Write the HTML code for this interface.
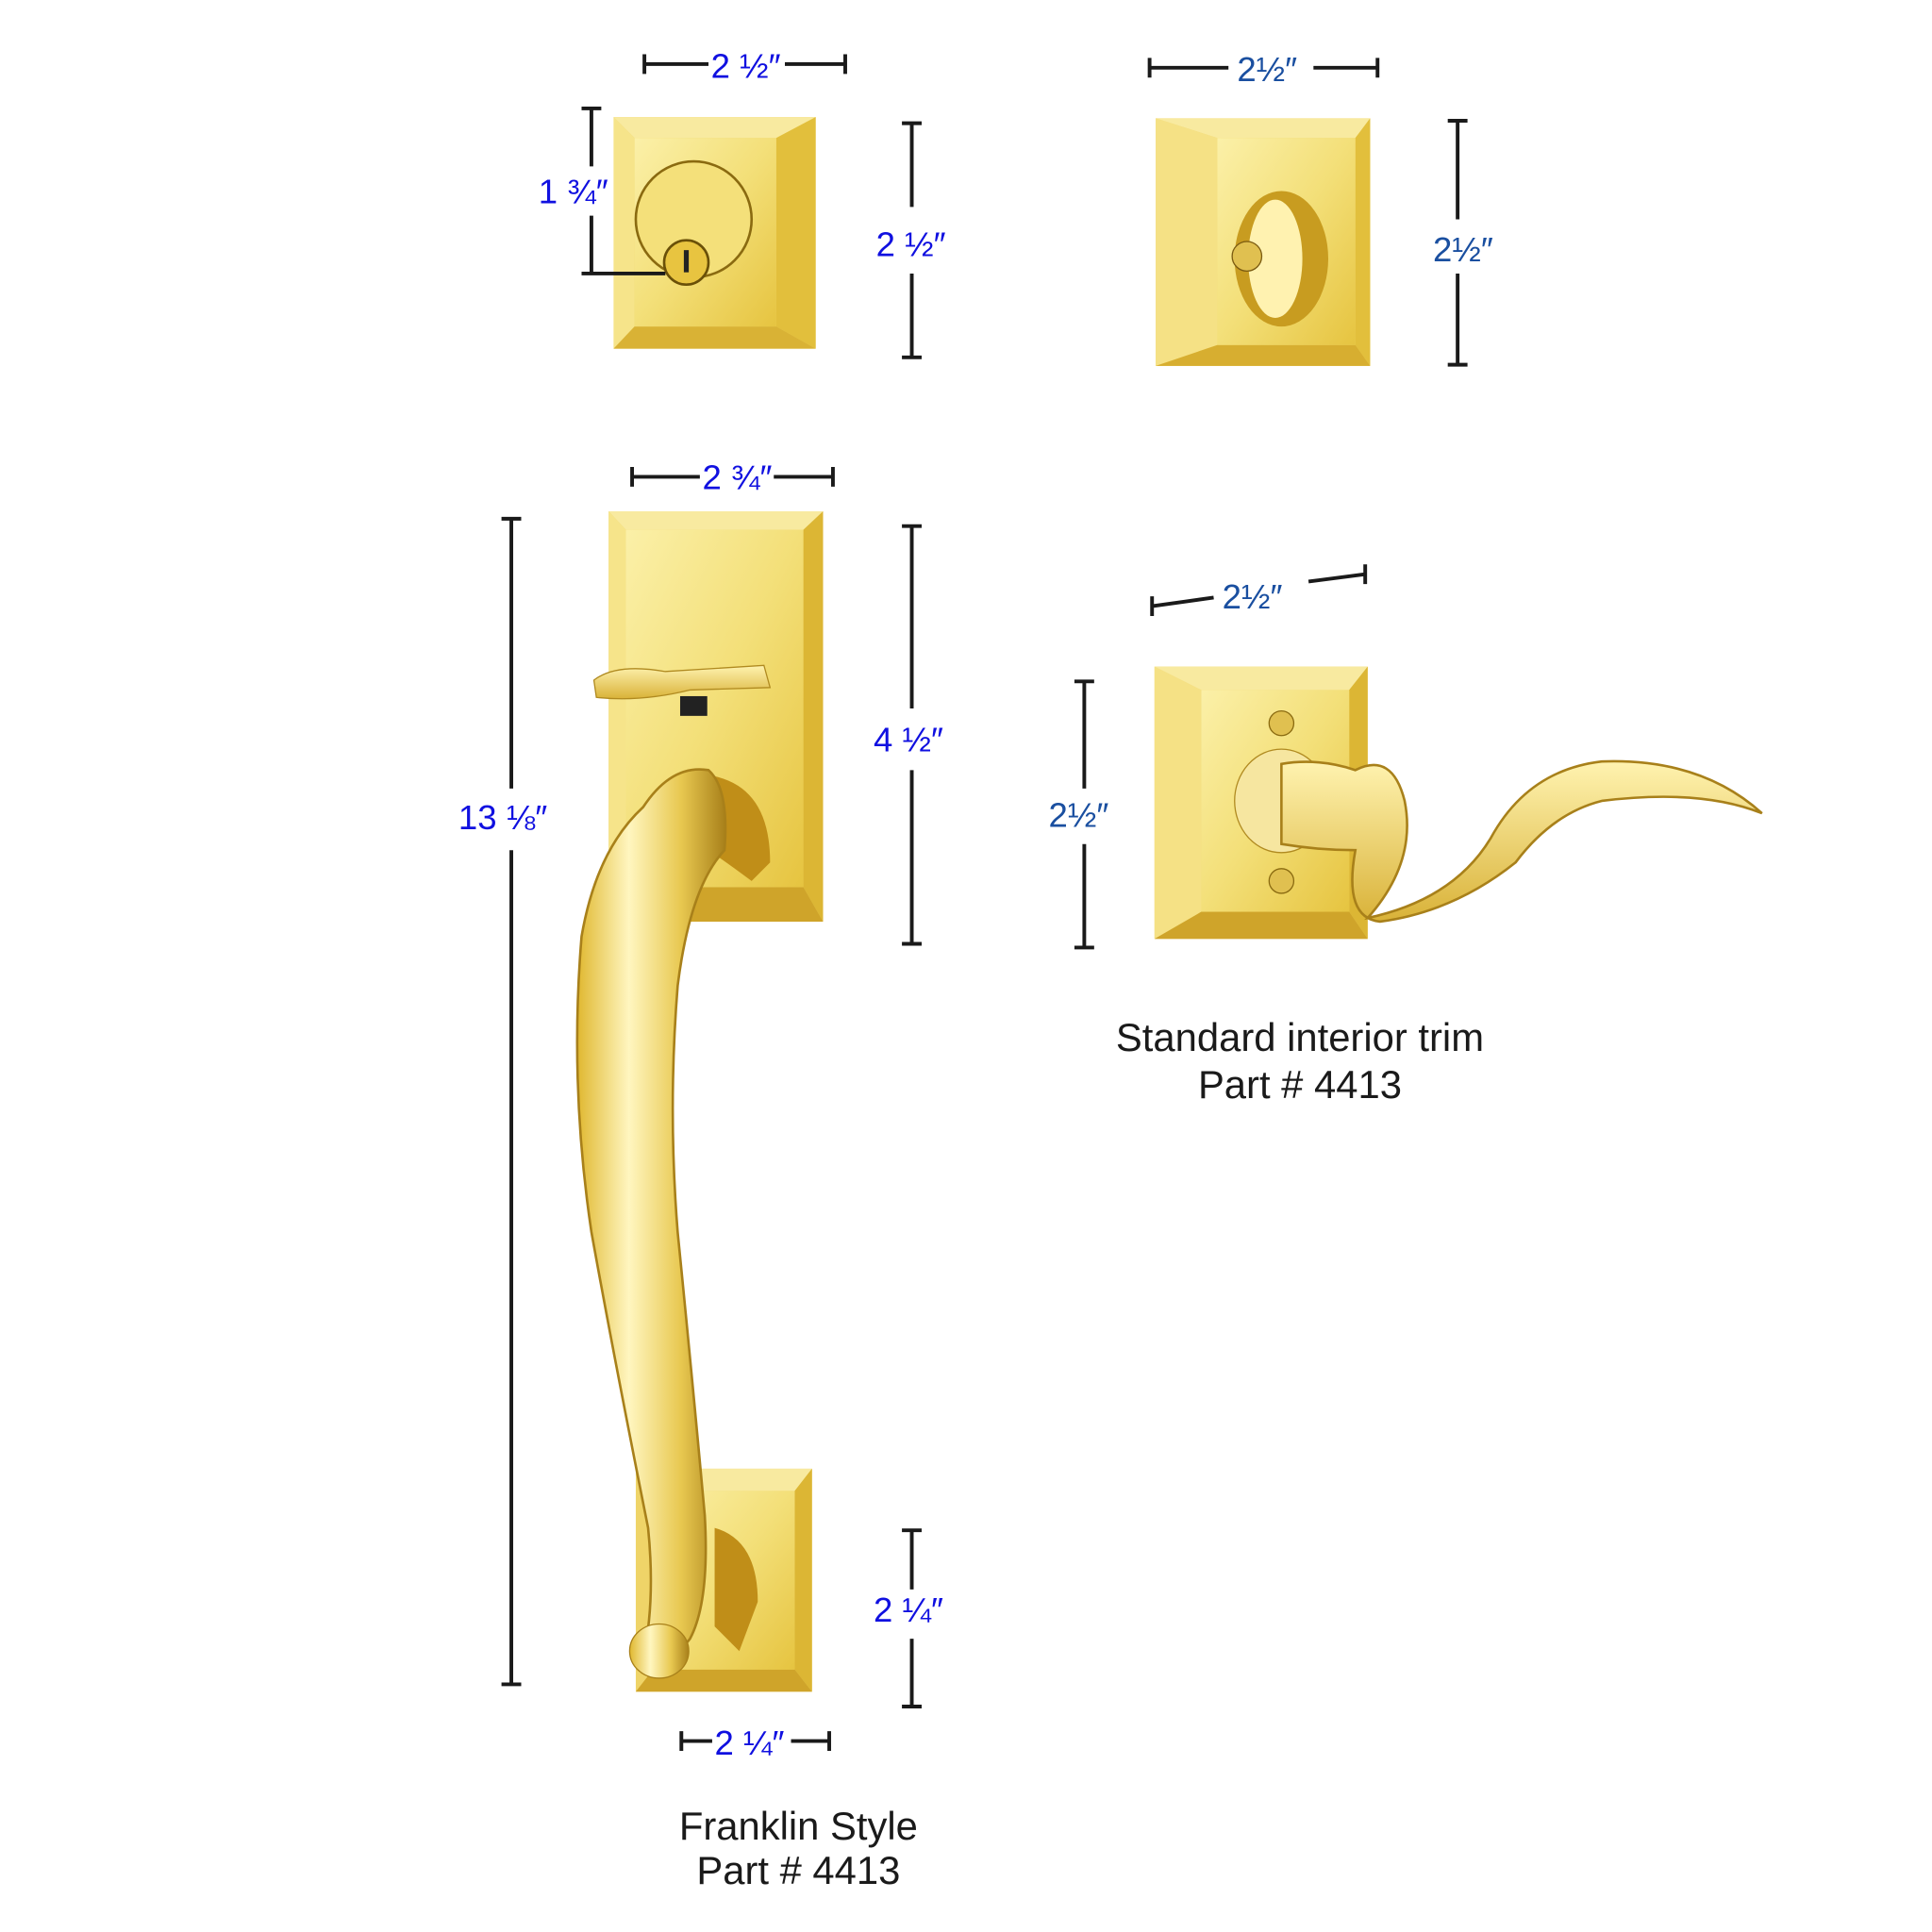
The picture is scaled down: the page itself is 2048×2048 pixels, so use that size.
<!DOCTYPE html>
<html><head><meta charset="utf-8"><style>
html,body{margin:0;padding:0;background:#fff}
svg{display:block}
.dim{stroke:#1a1a1a;stroke-width:3;fill:none}
.t{font-family:"Liberation Sans",sans-serif;fill:#1010e0;font-size:28px}
.t2{font-family:"Liberation Sans",sans-serif;fill:#1a4fa0;font-size:28px}
.cap{font-family:"Liberation Sans",sans-serif;fill:#1a1a1a;font-size:32px;text-anchor:middle}
</style></head><body>
<svg width="2048" height="2048" viewBox="0 0 1568 1568" xmlns="http://www.w3.org/2000/svg">
<defs>
<linearGradient id="b1" x1="0" y1="0" x2="1" y2="1"><stop offset="0" stop-color="#fbf0a8"/><stop offset=".5" stop-color="#f3df78"/><stop offset="1" stop-color="#e6c440"/></linearGradient>
<linearGradient id="b2" x1="0" y1="0" x2="1" y2="0"><stop offset="0" stop-color="#e0b830"/><stop offset=".35" stop-color="#fff6c0"/><stop offset=".7" stop-color="#e8c850"/><stop offset="1" stop-color="#a8801a"/></linearGradient>
<linearGradient id="b3" x1="0" y1="0" x2="0" y2="1"><stop offset="0" stop-color="#fff3b0"/><stop offset="1" stop-color="#d9b238"/></linearGradient>
</defs>
<rect width="1568" height="1568" fill="#fff"/>

<g>
<rect x="498" y="95" width="164" height="188" fill="#efd468"/>
<polygon points="498,95 662,95 630,112 515,112" fill="#f8eaa0"/>
<polygon points="498,95 515,112 515,265 498,283" fill="#f6e48a"/>
<polygon points="662,95 662,283 630,265 630,112" fill="#e2bf3c"/>
<polygon points="498,283 662,283 630,265 515,265" fill="#d9b235"/>
<rect x="515" y="112" width="115" height="153" fill="url(#b1)"/>
<circle cx="563" cy="178" r="47" fill="#f4e07a" stroke="#8a6a10" stroke-width="2"/>
<circle cx="557" cy="213" r="18" fill="#e8c440" stroke="#6a5008" stroke-width="2"/>
<rect x="555" y="203" width="4" height="18" fill="#222"/>
</g>
<path class="dim" d="M523 52H575M637 52H686M523 44V60M686 44V60"/>
<text class="t" x="577" y="63">2 ½″</text>
<path class="dim" d="M480 88V135M480 175V222M472 88H488M472 222H540"/>
<text class="t" x="437" y="165">1 ¾″</text>
<path class="dim" d="M740 100V168M740 222V290M732 100H748M732 290H748"/>
<text class="t" x="711" y="208">2 ½″</text>

<g>
<rect x="938" y="96" width="174" height="201" fill="#efd468"/>
<polygon points="938,96 1112,96 1100,112 988,112" fill="#f8eaa0"/>
<polygon points="938,96 988,112 988,280 938,297" fill="#f5e185"/>
<polygon points="1112,96 1112,297 1100,280 1100,112" fill="#e2bf3c"/>
<polygon points="938,297 1112,297 1100,280 988,280" fill="#d7ae30"/>
<rect x="988" y="112" width="112" height="168" fill="url(#b1)"/>
<ellipse cx="1040" cy="210" rx="38" ry="55" fill="#c89c20"/>
<ellipse cx="1035" cy="210" rx="22" ry="48" fill="#fff2b0"/>
<circle cx="1012" cy="208" r="12" fill="#e0c050" stroke="#7a5a10"/>
</g>
<path class="dim" d="M933 55H997M1066 55H1118M933 47V63M1118 47V63"/>
<text class="t2" x="1004" y="66">2½″</text>
<path class="dim" d="M1183 98V178M1183 222V296M1175 98H1191M1175 296H1191"/>
<text class="t2" x="1163" y="212">2½″</text>

<g>
<rect x="494" y="415" width="174" height="333" fill="#efd468"/>
<polygon points="494,415 668,415 652,430 508,430" fill="#f8eaa0"/>
<polygon points="494,415 508,430 508,720 494,748" fill="#f6e48a"/>
<polygon points="668,415 668,748 652,720 652,430" fill="#dcb634"/>
<polygon points="494,748 668,748 652,720 508,720" fill="#cfa42a"/>
<rect x="508" y="430" width="144" height="290" fill="url(#b1)"/>
<path d="M482 552Q500 538 540 545L620 540L625 558L560 560Q520 570 484 566Z" fill="url(#b3)" stroke="#b08a20"/>
<rect x="552" y="565" width="22" height="16" fill="#222"/>
<path d="M580 630Q625 640 625 700L610 715Q590 700 575 690Z" fill="#c08e18"/>
</g>
<path class="dim" d="M513 387H568M628 387H676M513 379V395M676 379V395"/>
<text class="t" x="570" y="397">2 ¾″</text>
<path class="dim" d="M740 427V575M740 625V766M732 427H748M732 766H748"/>
<text class="t" x="709" y="610">4 ½″</text>
<path class="dim" d="M415 421V640M415 690V1367M407 421H423M407 1367H423"/>
<text class="t" x="372" y="673">13 ⅛″</text>

<g>
<rect x="516" y="1192" width="143" height="181" fill="#efd468"/>
<polygon points="516,1192 659,1192 645,1210 530,1210" fill="#f8eaa0"/>
<polygon points="659,1192 659,1373 645,1355 645,1210" fill="#dcb634"/>
<polygon points="516,1373 659,1373 645,1355 530,1355" fill="#cfa42a"/>
<rect x="530" y="1210" width="115" height="145" fill="url(#b1)"/>
<path d="M580 1240Q615 1250 615 1300L600 1340L580 1320Z" fill="#c08e18"/>
</g>
<path class="dim" d="M740 1242V1290M740 1330V1385M732 1242H748M732 1385H748"/>
<text class="t" x="709" y="1316">2 ¼″</text>
<path class="dim" d="M553 1413H578M642 1413H673M553 1405V1421M673 1405V1421"/>
<text class="t" x="580" y="1424">2 ¼″</text>

<path d="M522 655Q545 620 575 625Q592 640 588 690Q560 720 550 800Q542 900 550 1000Q562 1120 572 1230Q576 1300 560 1330L548 1345L522 1345Q532 1300 526 1240Q498 1100 480 1000Q462 880 472 760Q484 690 522 655Z" fill="url(#b2)" stroke="#a8801a" stroke-width="2"/>
<ellipse cx="535" cy="1340" rx="24" ry="22" fill="url(#b2)" stroke="#a8801a"/>

<g>
<rect x="937" y="541" width="173" height="221" fill="#efd468"/>
<polygon points="937,541 1110,541 1095,560 975,560" fill="#f8eaa0"/>
<polygon points="937,541 975,560 975,740 937,762" fill="#f5e185"/>
<polygon points="1110,541 1110,762 1095,740 1095,560" fill="#dcb634"/>
<polygon points="937,762 1110,762 1095,740 975,740" fill="#cfa42a"/>
<rect x="975" y="560" width="120" height="180" fill="url(#b1)"/>
<circle cx="1040" cy="587" r="10" fill="#e0c050" stroke="#8a6a10"/>
<circle cx="1040" cy="715" r="10" fill="#e0c050" stroke="#8a6a10"/>
<ellipse cx="1040" cy="650" rx="38" ry="42" fill="#f6e6a0" stroke="#b08a20"/>
<path d="M1040 620Q1070 615 1100 625Q1130 610 1140 650Q1150 700 1110 745Q1180 730 1210 680Q1240 625 1300 618Q1380 615 1430 660Q1380 640 1300 650Q1260 660 1230 700Q1180 740 1120 748Q1090 745 1100 690Q1070 690 1040 685Z" fill="url(#b3)" stroke="#a8801a" stroke-width="2"/>
</g>
<path class="dim" d="M935 492L985 485M1062 472L1108 466M935 484V500M1108 458V474"/>
<text class="t2" x="992" y="494">2½″</text>
<path class="dim" d="M880 553V640M880 685V769M872 553H888M872 769H888"/>
<text class="t2" x="851" y="671">2½″</text>

<text class="cap" x="1055" y="853">Standard interior trim</text>
<text class="cap" x="1055" y="891">Part # 4413</text>
<text class="cap" x="648" y="1493">Franklin Style</text>
<text class="cap" x="648" y="1529">Part # 4413</text>
</svg>
</body></html>
